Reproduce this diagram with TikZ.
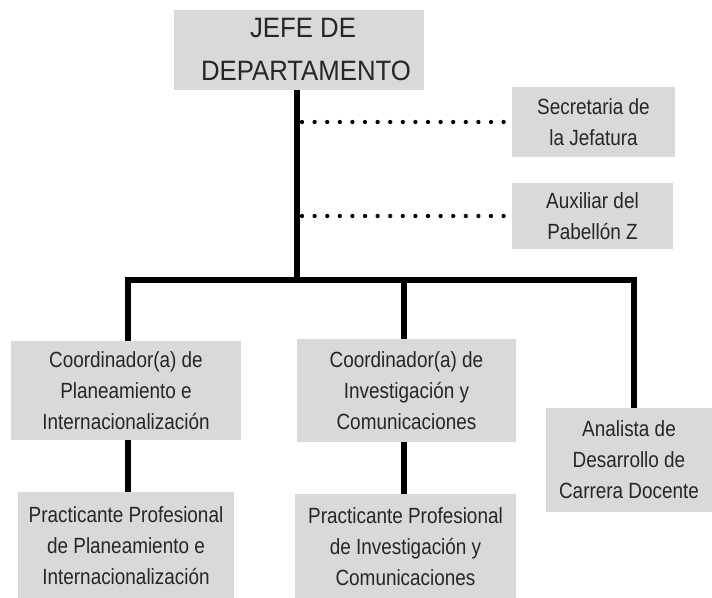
\documentclass[tikz,border=0pt]{standalone}
\usepackage{fontspec}
\setmainfont{Liberation Sans}[FakeStretch=0.86]
\newfontfamily\bigf{Liberation Sans}[FakeStretch=0.92]
\definecolor{boxgray}{HTML}{D9D9D9}
\definecolor{txt}{HTML}{262626}
\tikzset{
  box/.style={fill=boxgray, inner sep=0pt, align=center, text=txt,
    font=\fontsize{22}{31}\selectfont},
  bigbox/.style={box, font=\bigf\fontsize{28}{43}\selectfont},
  thickline/.style={line width=6pt, line join=miter},
  dotline/.style={line width=4.3pt, line cap=round, dash pattern=on 0pt off 12.6pt}
}
\begin{document}
\begin{tikzpicture}[x=1pt,y=-1pt]
\useasboundingbox (0,0) rectangle (712,597);
\node[bigbox, minimum width=250pt, minimum height=80pt] (jefe) at (299,50) {\hspace*{8pt}JEFE DE\\\hspace*{14pt}DEPARTAMENTO};
\node[box, minimum width=163pt, minimum height=70pt] (sec) at (593.5,122) {Secretaria de\\la Jefatura};
\node[box, minimum width=161pt, minimum height=66pt] (aux) at (592.5,216) {Auxiliar del\\Pabellón Z};
\node[box, minimum width=230pt, minimum height=99pt] (c1) at (126,390.5) {Coordinador(a) de\\Planeamiento e\\Internacionalización};
\node[box, minimum width=219pt, minimum height=103pt] (c2) at (406.5,390.5) {Coordinador(a) de\\Investigación y\\Comunicaciones};
\node[box, minimum width=166pt, minimum height=104pt] (an) at (629,460) {Analista de\\Desarrollo de\\Carrera Docente};
\node[box, minimum width=216pt, minimum height=108pt] (p1) at (126,546) {Practicante Profesional\\de Planeamiento e\\Internacionalización};
\node[box, minimum width=221pt, minimum height=106pt] (p2) at (405.5,547) {Practicante Profesional\\de Investigación y\\Comunicaciones};
\coordinate (b1) at (128,280);
\coordinate (b2) at (404,280);
\coordinate (b3) at (634,280);
\coordinate (v) at (297,280);
\draw[thickline] (v |- jefe.south) -- (v);
\draw[thickline] (b1 |- c1.north) -- (b1) -- (b3) -- (b3 |- an.north);
\draw[thickline] (b2) -- (b2 |- c2.north);
\draw[thickline] (b1 |- c1.south) -- (b1 |- p1.north);
\draw[thickline] (b2 |- c2.south) -- (b2 |- p2.north);
\draw[dotline] (sec.west -| 302,0) -- (sec.west);
\draw[dotline] (aux.west -| 302,0) -- (aux.west);
\end{tikzpicture}
\end{document}
